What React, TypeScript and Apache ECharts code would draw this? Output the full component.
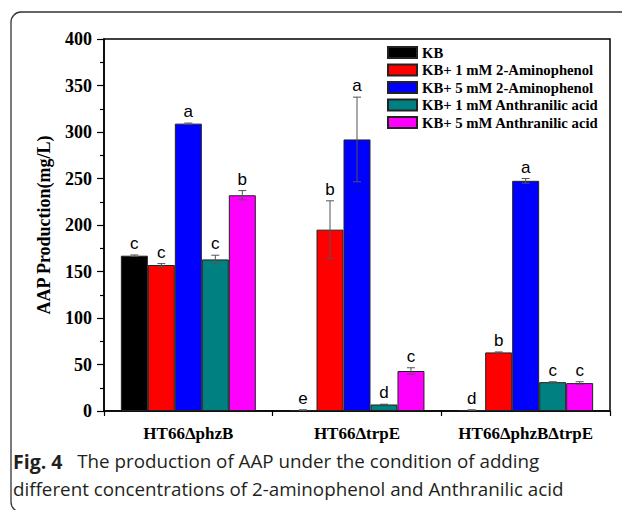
import React, { useEffect, useRef } from "react";
import * as echarts from "echarts";

const categories = ["HT66ΔphzB", "HT66ΔtrpE", "HT66ΔphzBΔtrpE"];
const seriesNames = [
  "KB",
  "KB+ 1 mM 2-Aminophenol",
  "KB+ 5 mM 2-Aminophenol",
  "KB+ 1 mM Anthranilic acid",
  "KB+ 5 mM Anthranilic acid",
];
const seriesColors = ["#000000", "#ff0000", "#0000ff", "#008080", "#ff00ff"];
const kbValues = [167, 1, 1];
const ap1Values = [157, 195, 63];
const ap5Values = [309, 292, 247.5];
const aa1Values = [163, 7, 31];
const aa5Values = [232, 43, 30];
const kbErr = [0.8, 0.3, 0.3];
const ap1Err = [1.5, 31, 0.5];
const ap5Err = [0.6, 45.5, 2.5];
const aa1Err = [4.5, 0.3, 0.5];
const aa5Err = [5, 3.5, 1.5];
const kbLetters = ["c", "e", "d"];
const ap1Letters = ["c", "b", "b"];
const ap5Letters = ["a", "a", "a"];
const aa1Letters = ["c", "d", "c"];
const aa5Letters = ["b", "c", "c"];
const yTicks = { min: 0, max: 400, interval: 50 };
const yName = "AAP Production(mg/L)";
const captionBold = "Fig. 4";
const captionLine1 = "The production of AAP under the condition of adding";
const captionLine2 = "different concentrations of 2-aminophenol and Anthranilic acid";

const allValues = [kbValues, ap1Values, ap5Values, aa1Values, aa5Values];
const allErr = [kbErr, ap1Err, ap5Err, aa1Err, aa5Err];
const allLetters = [kbLetters, ap1Letters, ap5Letters, aa1Letters, aa5Letters];

export default function App() {
  const ref = useRef<HTMLDivElement>(null);
  useEffect(() => {
    if (!ref.current) return;
    const chart = echarts.init(ref.current, null, { renderer: "svg" });
    const errData: number[][] = [];
    const letterList: string[] = [];
    allValues.forEach((vals, si) => {
      vals.forEach((v, ci) => {
        errData.push([ci, v, allErr[si][ci], si]);
        letterList.push(allLetters[si][ci]);
      });
    });
    const serif = "'Liberation Serif', 'Times New Roman', serif";
    const sans = "'Open Sans', 'Noto Sans', sans-serif";
    const option: any = {
      animation: false,
      backgroundColor: "#ffffff",
      grid: {
        left: 104,
        right: 12,
        top: 39,
        bottom: 99,
        show: true,
        borderColor: "#000",
        borderWidth: 1.5,
        backgroundColor: "transparent",
      },
      legend: {
        orient: "vertical",
        left: 382,
        top: 40,
        itemWidth: 29,
        itemHeight: 11,
        itemGap: 2.5,
        icon: "rect",
        data: seriesNames,
        textStyle: {
          fontFamily: serif,
          fontWeight: "bold",
          fontSize: 14.7,
          color: "#000",
          padding: [0, 0, 0, 0],
        },
      },
      xAxis: [
        {
          type: "category",
          data: categories,
          position: "bottom",
          axisLine: { lineStyle: { color: "#000", width: 1.5 } },
          axisTick: { alignWithLabel: true, length: 6, lineStyle: { color: "#000", width: 1.2 } },
          axisLabel: {
            interval: 0,
            fontFamily: serif,
            fontWeight: "bold",
            fontSize: 17,
            color: "#000",
            margin: 14,
          },
        },
        {
          type: "category",
          data: categories,
          position: "bottom",
          axisLine: { show: false },
          axisTick: { show: true, interval: 0, length: 5, lineStyle: { color: "#000", width: 1.2 } },
          axisLabel: { show: false },
        },
      ],
      yAxis: {
        type: "value",
        min: yTicks.min,
        max: yTicks.max,
        interval: yTicks.interval,
        name: yName,
        nameLocation: "middle",
        nameGap: 51,
        nameTextStyle: { fontFamily: serif, fontWeight: "bold", fontSize: 18, color: "#000" },
        axisLine: { show: true, lineStyle: { color: "#000", width: 1.5 } },
        axisTick: { show: true, length: 7, lineStyle: { color: "#000", width: 1.2 } },
        minorTick: { show: true, splitNumber: 2, length: 4, lineStyle: { color: "#000", width: 1.2 } },
        splitLine: { show: false },
        axisLabel: {
          fontFamily: serif,
          fontWeight: "bold",
          fontSize: 18,
          color: "#000",
          margin: 12,
        },
      },
      series: [
        ...seriesNames.map((name, si) => ({
          type: "bar",
          name,
          data: allValues[si],
          barGap: "0%",
          barCategoryGap: "20%",
          itemStyle: { color: seriesColors[si], borderColor: "#222", borderWidth: 1 },
        })),
        {
          type: "custom",
          name: "errors",
          data: errData,
          z: 10,
          silent: true,
          encode: { x: 0, y: 1 },
          renderItem: (params: any, api: any) => {
            const ci = api.value(0);
            const v = api.value(1);
            const e = api.value(2);
            const si = api.value(3);
            const base = api.coord([ci, 0]);
            const band = api.size([1, 0])[0];
            const bw = (band * 0.8) / 5;
            const x = base[0] + (si - 2) * bw;
            const yTop = api.coord([ci, v + e])[1];
            const yBot = api.coord([ci, Math.max(v - e, 0)])[1];
            const stroke = { stroke: "#555", lineWidth: 1 };
            return {
              type: "group",
              children: [
                { type: "line", shape: { x1: x, y1: yTop, x2: x, y2: yBot }, style: stroke },
                { type: "line", shape: { x1: x - 4, y1: yTop, x2: x + 4, y2: yTop }, style: stroke },
                { type: "line", shape: { x1: x - 4, y1: yBot, x2: x + 4, y2: yBot }, style: stroke },
                {
                  type: "text",
                  x: x,
                  y: yTop - 3,
                  style: {
                    text: letterList[params.dataIndex],
                    fill: "#000",
                    fontSize: 17,
                    fontFamily: "'Liberation Sans', Arial, sans-serif",
                    textAlign: "center",
                    textVerticalAlign: "bottom",
                  },
                },
              ],
            };
          },
        },
      ],
      graphic: [
        {
          type: "rect",
          shape: { x: 11, y: 12, width: 720, height: 500, r: 10 },
          style: { fill: "none", stroke: "#333", lineWidth: 1.3 },
          silent: true,
          z: -1,
        },
        {
          type: "text",
          left: 13,
          top: 451,
          style: {
            text: "{b|" + captionBold + "}  " + captionLine1,
            fontSize: 18.8,
            fontFamily: sans,
            fill: "#231f20",
            rich: {
              b: {
                fontWeight: "bold",
                fontSize: 19.5,
                fontFamily: sans,
                fill: "#231f20",
                padding: [0, 5, 0, 0],
              },
            },
          },
        },
        {
          type: "text",
          left: 13,
          top: 479,
          style: {
            text: captionLine2,
            fontSize: 18.8,
            fontFamily: sans,
            fill: "#231f20",
          },
        },
      ],
    };
    chart.setOption(option);
    return () => chart.dispose();
  }, []);
  return (
    <div
      ref={ref}
      style={{ position: "fixed", left: 0, top: 0, width: 622, height: 510, background: "#fff" }}
    />
  );
}
